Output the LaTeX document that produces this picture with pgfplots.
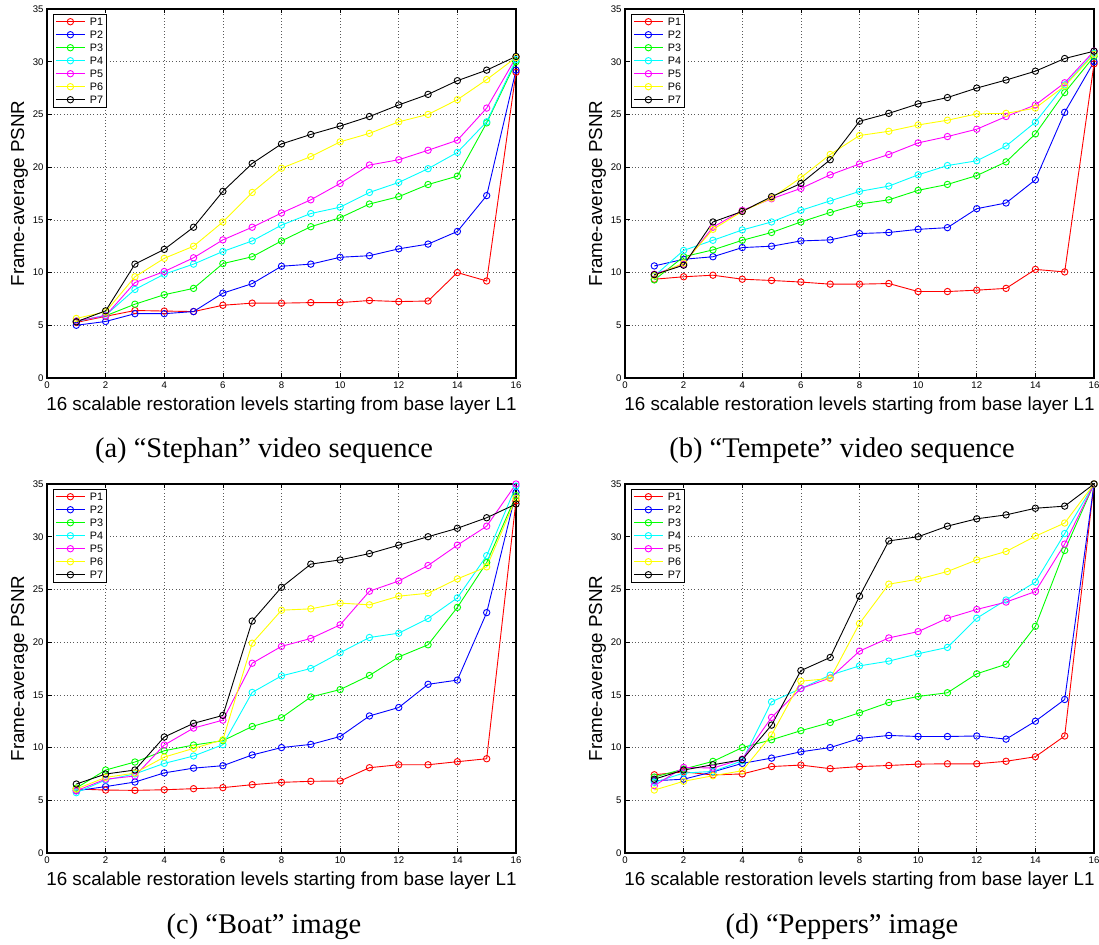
\documentclass[border=0pt]{standalone}
\usepackage{fontspec}
\setmainfont{Liberation Sans}
\newfontfamily\capfont{Liberation Serif}
\usepackage{pgfplots}
\pgfplotsset{compat=1.18}
\usepackage{pgfplotstable}
\definecolor{mred}{rgb}{1,0,0}
\definecolor{mblue}{rgb}{0,0,1}
\definecolor{mgreen}{rgb}{0,1,0}
\definecolor{mcyan}{rgb}{0,1,1}
\definecolor{mmag}{rgb}{1,0,1}
\definecolor{myel}{rgb}{1,1,0}

\pgfplotstableread{
x p1 p2 p3 p4 p5 p6 p7
1 5.27 5.00 5.40 5.35 5.40 5.65 5.33
2 5.85 5.36 5.90 5.95 5.90 6.28 6.37
3 6.40 6.10 7.00 8.40 9.05 9.60 10.80
4 6.35 6.10 7.90 9.85 10.10 11.35 12.20
5 6.30 6.30 8.50 10.80 11.40 12.50 14.30
6 6.90 8.05 10.85 12.00 13.10 14.80 17.70
7 7.10 8.95 11.50 13.00 14.30 17.60 20.35
8 7.10 10.60 13.00 14.50 15.65 19.90 22.20
9 7.15 10.80 14.35 15.60 16.90 21.00 23.10
10 7.15 11.45 15.20 16.20 18.45 22.40 23.90
11 7.35 11.60 16.50 17.60 20.20 23.20 24.80
12 7.25 12.25 17.20 18.55 20.70 24.30 25.90
13 7.30 12.70 18.35 19.85 21.60 25.00 26.90
14 10.00 13.90 19.15 21.40 22.55 26.40 28.20
15 9.20 17.30 24.20 24.30 25.60 28.30 29.20
16 29.00 29.20 30.00 30.20 30.40 30.40 30.50
}\tabA

\pgfplotstableread{
x p1 p2 p3 p4 p5 p6 p7
1 9.37 10.63 9.30 9.68 9.84 9.70 9.80
2 9.60 11.26 11.50 12.10 10.80 10.90 10.70
3 9.75 11.50 12.15 13.06 14.30 14.10 14.80
4 9.37 12.37 13.06 14.04 15.90 15.80 15.80
5 9.25 12.50 13.80 14.80 17.00 17.07 17.20
6 9.10 13.00 14.80 15.90 17.98 19.00 18.45
7 8.90 13.10 15.70 16.80 19.27 21.20 20.70
8 8.90 13.70 16.50 17.70 20.30 23.00 24.35
9 8.96 13.80 16.90 18.20 21.20 23.40 25.10
10 8.20 14.10 17.80 19.27 22.30 24.00 26.00
11 8.20 14.26 18.36 20.15 22.90 24.45 26.60
12 8.33 16.06 19.20 20.60 23.60 25.05 27.50
13 8.50 16.60 20.50 22.00 24.80 25.10 28.26
14 10.30 18.80 23.15 24.26 25.90 25.60 29.10
15 10.06 25.20 27.07 27.80 28.00 27.70 30.30
16 29.80 30.00 30.50 30.80 31.00 30.70 31.00
}\tabB

\pgfplotstableread{
x p1 p2 p3 p4 p5 p6 p7
1 6.07 5.90 6.16 5.72 5.90 6.07 6.54
2 5.97 6.30 7.87 6.92 7.00 7.17 7.49
3 5.94 6.73 8.63 7.50 7.30 7.58 7.87
4 6.00 7.60 9.70 8.50 10.24 9.10 11.00
5 6.10 8.05 10.24 9.20 11.85 9.92 12.30
6 6.20 8.28 10.65 10.27 12.60 10.74 13.05
7 6.48 9.30 12.00 15.23 18.00 19.90 22.00
8 6.70 10.00 12.83 16.80 19.60 23.03 25.20
9 6.80 10.30 14.80 17.50 20.35 23.16 27.40
10 6.83 11.05 15.50 19.00 21.64 23.70 27.80
11 8.09 13.00 16.84 20.44 24.83 23.54 28.40
12 8.37 13.80 18.60 20.85 25.80 24.36 29.20
13 8.37 16.00 19.75 22.24 27.27 24.64 30.00
14 8.66 16.40 23.30 24.20 29.20 26.00 30.80
15 8.94 22.80 27.55 28.20 31.00 27.14 31.80
16 33.40 34.20 33.90 34.80 35.00 33.65 33.10
}\tabC

\pgfplotstableread{
x p1 p2 p3 p4 p5 p6 p7
1 7.42 6.85 7.20 6.70 6.38 5.97 7.00
2 7.70 7.00 7.96 7.58 8.12 6.80 7.87
3 7.40 7.70 8.69 7.74 8.06 7.33 8.37
4 7.50 8.50 10.00 8.75 8.90 7.80 8.85
5 8.20 9.00 10.74 14.34 12.86 11.20 12.13
6 8.34 9.60 11.60 15.60 15.60 16.30 17.30
7 8.00 10.00 12.38 16.87 16.60 16.55 18.55
8 8.20 10.87 13.30 17.75 19.15 21.77 24.36
9 8.30 11.15 14.28 18.20 20.40 25.50 29.60
10 8.43 11.05 14.85 18.90 21.00 25.97 30.00
11 8.46 11.05 15.20 19.50 22.27 26.70 31.00
12 8.46 11.10 17.00 22.27 23.10 27.80 31.70
13 8.70 10.80 17.90 24.00 23.80 28.60 32.07
14 9.13 12.50 21.50 25.70 24.80 30.05 32.70
15 11.10 14.56 28.70 30.30 29.30 31.30 32.90
16 35.00 35.00 35.00 35.00 35.00 35.00 35.00
}\tabD

\pgfplotsset{
  panel/.style={
    scale only axis, width=469pt, height=369pt, anchor=south west,
    xmin=0, xmax=16, ymin=0, ymax=35,
    xtick={0,2,...,16}, ytick={0,5,...,35},
    grid=major,
    major grid style={black!65, line width=0.6pt, dash pattern=on 0.7pt off 2.6pt},
    tick align=inside, tick pos=both, major tick length=4.5pt,
    every tick/.style={black, line width=0.7pt},
    axis line style={line width=1.2pt},
    /pgf/number format/assume math mode=true,
    ticklabel style={font=\fontsize{9.6}{10}\selectfont},
    xlabel={16 scalable restoration levels starting from base layer L1},
    ylabel={Frame-average PSNR},
    label style={font=\fontsize{18.8}{21}\selectfont},
    xlabel style={at={(axis description cs:0.5,-0.0894)}, anchor=base},
    ylabel style={at={(axis description cs:-0.049,0.5)}, anchor=base},
    legend style={at={(axis description cs:0.0128,0.9864)}, anchor=north west,
      draw=black, line width=0.9pt, fill=white,
      font=\fontsize{10.8}{11}\selectfont, inner sep=2pt, row sep=2.5pt,
      nodes={inner sep=1.5pt, text height=7.5pt, text depth=0pt},
      /tikz/every odd column/.append style={column sep=3pt}},
    legend cell align=left,
    legend image code/.code={\draw[mark repeat=2,mark phase=2,##1] plot coordinates {(0pt,0pt) (14.5pt,0pt) (29pt,0pt)};},
    cycle list={{mred,mark=o},{mblue,mark=o},{mgreen,mark=o},{mcyan,mark=o},{mmag,mark=o},{myel,mark=o},{black,mark=o}},
    every axis plot/.append style={line width=0.9pt, mark size=3.2pt, mark options={solid}},
  }
}

\newcommand{\allseries}[1]{%
  \addplot table[x=x,y=p1]{#1};
  \addplot table[x=x,y=p2]{#1};
  \addplot table[x=x,y=p3]{#1};
  \addplot table[x=x,y=p4]{#1};
  \addplot table[x=x,y=p5]{#1};
  \addplot table[x=x,y=p6]{#1};
  \addplot table[x=x,y=p7]{#1};
  \legend{P1,P2,P3,P4,P5,P6,P7}}

\begin{document}
\begin{tikzpicture}
\path[use as bounding box] (0pt,0pt) rectangle (1099pt,944pt);
\begin{axis}[panel, at={(47pt,566pt)}]
\allseries{\tabA}
\end{axis}
\begin{axis}[panel, at={(625pt,566pt)}]
\allseries{\tabB}
\end{axis}
\begin{axis}[panel, at={(47pt,91pt)}]
\allseries{\tabC}
\end{axis}
\begin{axis}[panel, at={(625pt,91pt)}]
\allseries{\tabD}
\end{axis}
\node[anchor=base, font=\capfont\fontsize{28.5}{32}\selectfont] at (264pt,486pt) {(a) “Stephan” video sequence};
\node[anchor=base, font=\capfont\fontsize{28.5}{32}\selectfont] at (842pt,486pt) {(b) “Tempete” video sequence};
\node[anchor=base, font=\capfont\fontsize{28.5}{32}\selectfont] at (264pt,11pt) {(c) “Boat” image};
\node[anchor=base, font=\capfont\fontsize{28.5}{32}\selectfont] at (842pt,11pt) {(d) “Peppers” image};
\end{tikzpicture}
\end{document}
